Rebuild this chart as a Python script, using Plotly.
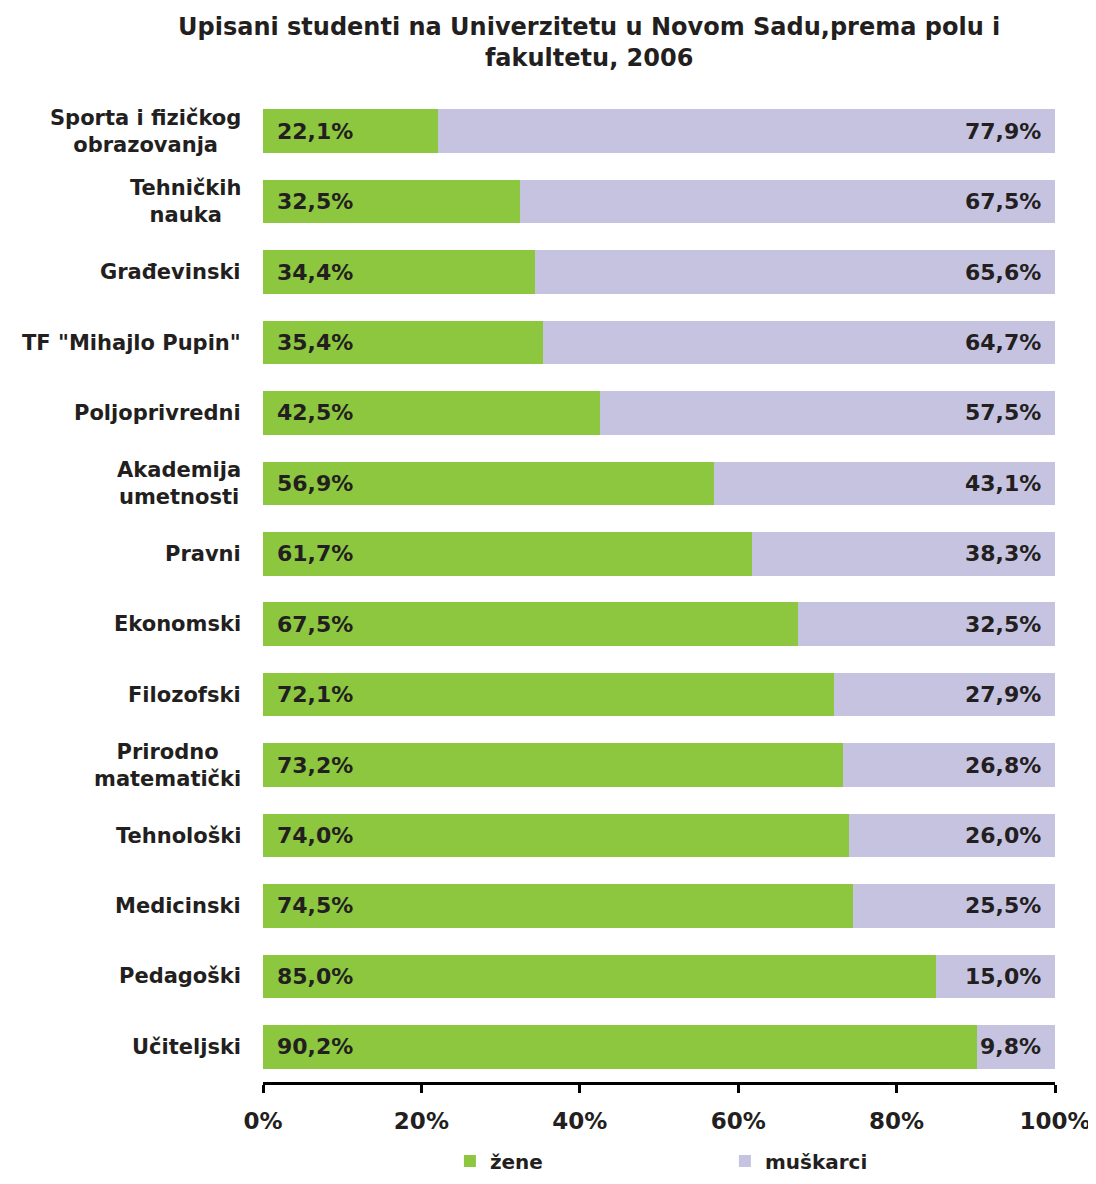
import plotly.graph_objects as go

# fakulteti, od vrha ka dnu
fakulteti = [
    "Sporta i fizičkog<br>obrazovanja",
    "Tehničkih<br>nauka",
    "Građevinski",
    'TF "Mihajlo Pupin"',
    "Poljoprivredni",
    "Akademija<br>umetnosti",
    "Pravni",
    "Ekonomski",
    "Filozofski",
    "Prirodno<br>matematički",
    "Tehnološki",
    "Medicinski",
    "Pedagoški",
    "Učiteljski",
]
zene = [22.1, 32.5, 34.4, 35.4, 42.5, 56.9, 61.7, 67.5, 72.1, 73.2, 74.0, 74.5, 85.0, 90.2]
muskarci = [77.9, 67.5, 65.6, 64.7, 57.5, 43.1, 38.3, 32.5, 27.9, 26.8, 26.0, 25.5, 15.0, 9.8]
x_ticks = [0, 20, 40, 60, 80, 100]

FONT = "DejaVu Sans"
TXT = "#231f20"
GREEN = "#8dc63f"
PURPLE = "#c6c3e0"


def pct(v):
    return f"{v:.1f}".replace(".", ",") + "%"


fig = go.Figure()
fig.add_trace(go.Bar(y=fakulteti, x=zene, name="žene", orientation="h",
                     marker=dict(color=GREEN, line=dict(width=0))))
fig.add_trace(go.Bar(y=fakulteti, x=muskarci, name="muškarci", orientation="h",
                     marker=dict(color=PURPLE, line=dict(width=0))))

bold = lambda s: dict(family=FONT, size=s, color=TXT, weight="bold")

annotations = []
for f, z, m in zip(fakulteti, zene, muskarci):
    annotations.append(dict(x=0, y=f, xref="x", yref="y", text=pct(z),
                            xanchor="left", xshift=12, showarrow=False, font=bold(22)))
    annotations.append(dict(x=100, y=f, xref="x", yref="y", text=pct(m),
                            xanchor="right", xshift=-12, showarrow=False, font=bold(22)))
    # category labels, lines centered like the original
    annotations.append(dict(x=0, y=f, xref="paper", yref="y", text=f,
                            xanchor="right", xshift=-20, align="center",
                            showarrow=False, font=bold(21)))

# title
annotations.append(dict(
    x=0.4116, y=1, xref="paper", yref="paper", xanchor="center", yanchor="bottom",
    yshift=22, showarrow=False, align="center",
    text="Upisani studenti na Univerzitetu u Novom Sadu,prema polu i<br>fakultetu, 2006",
    font=bold(24),
))

# page body has an 8px margin, so the figure starts at (8, 8) in the window
fig.update_layout(
    barmode="stack",
    bargap=0.38,
    width=1088,
    height=1176,
    paper_bgcolor="white",
    plot_bgcolor="white",
    margin=dict(l=255, r=41, t=88, b=102, autoexpand=False),
    xaxis=dict(
        range=[0, 100], tickvals=x_ticks, ticktext=[f"{t}%" for t in x_ticks],
        showgrid=False, zeroline=False,
        showline=True, linecolor="black", linewidth=3,
        ticks="outside", ticklen=8, tickwidth=3, tickcolor="black",
        tickfont=bold(23),
        ticklabelstandoff=8, ticklabeloverflow="allow", automargin=False,
    ),
    yaxis=dict(
        categoryorder="array", categoryarray=fakulteti, autorange="reversed",
        showticklabels=False, showgrid=False, zeroline=False, showline=False,
        automargin=False,
    ),
    legend=dict(
        orientation="h", traceorder="normal",
        x=0.236, xanchor="left", y=0.003, yref="container", yanchor="bottom",
        entrywidth=230, entrywidthmode="pixels", itemwidth=30,
        font=bold(20),
    ),
    annotations=annotations,
    showlegend=True,
)

fig.write_html("out.html")
